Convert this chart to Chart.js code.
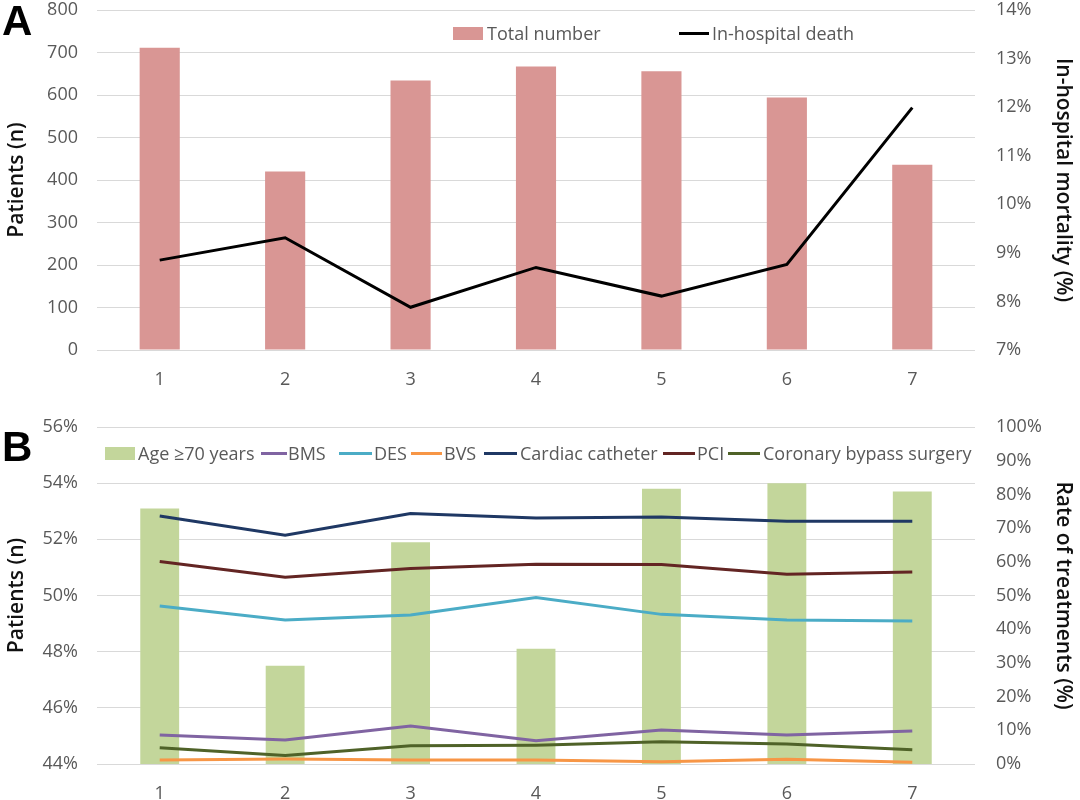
<!DOCTYPE html>
<html>
<head>
<meta charset="utf-8">
<script src="https://cdn.jsdelivr.net/npm/chart.js@4"></script>
<style>
  body { margin: 0; background: #fff; }
  #wrap { position: relative; width: 1080px; height: 800px; overflow: hidden; font-family: "Open Sans", sans-serif; }
  canvas { position: absolute; left: 0; }
  .panel { position: absolute; font-family: "Liberation Sans", Arial, sans-serif; font-weight: bold; font-size: 42px; line-height: 42px; color: #000; }
  .leg { position: absolute; font-size: 18px; line-height: 20px; color: #595959; white-space: nowrap; }
  .box { position: absolute; height: 13px; }
  .ln { position: absolute; height: 3px; }
</style>
</head>
<body>
<div id="wrap">
  <canvas id="chartA" width="1080" height="400" style="top:0"></canvas>
  <canvas id="chartB" width="1080" height="400" style="top:400px"></canvas>

  <div class="panel" style="left:2px; top:0px">A</div>
  <div class="panel" style="left:2px; top:426px">B</div>

  <!-- legend A -->
  <div class="box" style="left:453px; top:27px; width:30px; background:#d99694"></div>
  <div class="leg" style="left:487px; top:23px">Total number</div>
  <div class="ln" style="left:679px; top:32px; width:30px; background:#000"></div>
  <div class="leg" style="left:712px; top:23px">In-hospital death</div>

  <!-- legend B -->
  <div class="box" style="left:105px; top:447px; width:30px; background:#c3d69b"></div>
  <div class="leg" style="left:138px; top:443px">Age ≥70 years</div>
  <div class="ln" style="left:261px; top:452px; width:26px; background:#8064a2"></div>
  <div class="leg" style="left:288px; top:443px">BMS</div>
  <div class="ln" style="left:339px; top:452px; width:33px; background:#4bacc6"></div>
  <div class="leg" style="left:374px; top:443px">DES</div>
  <div class="ln" style="left:411px; top:452px; width:31px; background:#f79646"></div>
  <div class="leg" style="left:444px; top:443px">BVS</div>
  <div class="ln" style="left:484px; top:452px; width:33px; background:#1f3864"></div>
  <div class="leg" style="left:520px; top:443px">Cardiac catheter</div>
  <div class="ln" style="left:663px; top:452px; width:32px; background:#632523"></div>
  <div class="leg" style="left:697px; top:443px">PCI</div>
  <div class="ln" style="left:728px; top:452px; width:32px; background:#4f6228"></div>
  <div class="leg" style="left:763px; top:443px">Coronary bypass surgery</div>
</div>

<script>
// x categories (same for both panels)
const categories = ['1', '2', '3', '4', '5', '6', '7'];

// panel A
const totalNumber = [711, 420, 634, 667, 656, 594, 436];
const inHospitalDeath = [8.85, 9.31, 7.88, 8.70, 8.11, 8.76, 11.99];

// panel B
const age70 = [53.1, 47.5, 51.9, 48.1, 53.8, 54.0, 53.7];
const bms = [8.6, 7.1, 11.3, 6.9, 10.1, 8.6, 9.8];
const des = [46.9, 42.7, 44.2, 49.4, 44.4, 42.7, 42.4];
const bvs = [1.2, 1.5, 1.2, 1.2, 0.7, 1.4, 0.5];
const cardiacCatheter = [73.6, 67.9, 74.3, 73.0, 73.3, 72.0, 72.0];
const pci = [60.1, 55.4, 58.0, 59.3, 59.2, 56.3, 57.0];
const bypassSurgery = [4.8, 2.5, 5.4, 5.6, 6.6, 5.9, 4.2];

const tickFont = { family: 'Open Sans', size: 18 };
const titleFont = { family: 'Open Sans', size: 21, weight: '600' };
const tickColor = '#595959';
const gridColor = '#d9d9d9';

function lineSet(label, data, color) {
  return {
    type: 'line', label: label, data: data, yAxisID: 'y1', order: 0,
    borderColor: color, backgroundColor: color, borderWidth: 3,
    pointRadius: 0, tension: 0
  };
}

function scalesFor(leftMin, leftMax, leftStep, leftFmt, rightMin, rightMax, rightStep, rightTitle, xHeight) {
  return {
    x: {
      grid: { display: false },
      border: { display: false },
      ticks: { color: tickColor, font: tickFont, padding: 11 },
      afterFit: function (s) { s.height = xHeight; s.paddingLeft = 0; s.paddingRight = 0; }
    },
    y: {
      position: 'left', min: leftMin, max: leftMax,
      grid: { color: gridColor, drawTicks: false },
      border: { display: false },
      ticks: { stepSize: leftStep, color: tickColor, font: tickFont, padding: 19, callback: leftFmt },
      title: { display: true, text: 'Patients (n)', color: '#111', font: titleFont },
      afterFit: function (s) { s.width = 97; s.paddingTop = 0; s.paddingBottom = 0; }
    },
    y1: {
      position: 'right', min: rightMin, max: rightMax,
      grid: { display: false, drawTicks: false },
      border: { display: false },
      ticks: { stepSize: rightStep, color: tickColor, font: tickFont, padding: 21, callback: v => v + '%' },
      title: { display: true, text: rightTitle, color: '#111', font: titleFont },
      afterFit: function (s) { s.width = 105; s.paddingTop = 0; s.paddingBottom = 0; }
    }
  };
}

const chartA = new Chart(document.getElementById('chartA').getContext('2d'), {
  type: 'bar',
  data: {
    labels: categories,
    datasets: [
      {
        label: 'Total number', data: totalNumber, yAxisID: 'y', order: 1,
        backgroundColor: '#d99694', barPercentage: 0.32, categoryPercentage: 1
      },
      lineSet('In-hospital death', inHospitalDeath, '#000000')
    ]
  },
  options: {
    responsive: false,
    animation: false,
    devicePixelRatio: 1,
    layout: { padding: { top: 10, left: 0, right: 0, bottom: 0 } },
    plugins: { legend: { display: false }, tooltip: { enabled: false } },
    scales: scalesFor(0, 800, 100, v => v, 7, 14, 1, 'In-hospital mortality (%)', 50)
  }
});

const chartB = new Chart(document.getElementById('chartB').getContext('2d'), {
  type: 'bar',
  data: {
    labels: categories,
    datasets: [
      {
        label: 'Age ≥70 years', data: age70, yAxisID: 'y', order: 1,
        backgroundColor: '#c3d69b', barPercentage: 0.31, categoryPercentage: 1
      },
      lineSet('BMS', bms, '#8064a2'),
      lineSet('DES', des, '#4bacc6'),
      lineSet('BVS', bvs, '#f79646'),
      lineSet('Cardiac catheter', cardiacCatheter, '#1f3864'),
      lineSet('PCI', pci, '#632523'),
      lineSet('Coronary bypass surgery', bypassSurgery, '#4f6228')
    ]
  },
  options: {
    responsive: false,
    animation: false,
    devicePixelRatio: 1,
    layout: { padding: { top: 27, left: 0, right: 0, bottom: 0 } },
    plugins: { legend: { display: false }, tooltip: { enabled: false } },
    scales: scalesFor(44, 56, 2, v => v + '%', 0, 100, 10, 'Rate of treatments (%)', 36)
  }
});
</script>
</body>
</html>
